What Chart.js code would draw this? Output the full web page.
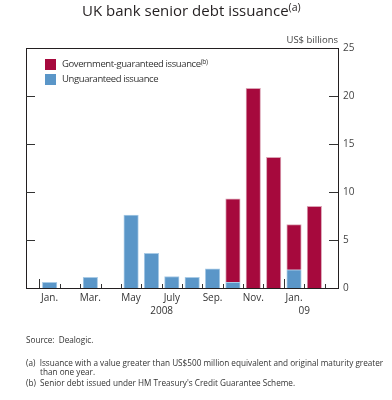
<!DOCTYPE html>
<html>
<head>
<meta charset="utf-8">
<script src="https://cdn.jsdelivr.net/npm/chart.js@4"></script>
<style>
  body { margin: 0; background: #fff; }
  #wrap { position: relative; width: 392px; height: 400px; font-family: "Open Sans", sans-serif; color: #231f20; }
  #myChart { position: absolute; left: 0; top: 0; }
  .txt { position: absolute; white-space: nowrap; line-height: 1; }
  sup { font-size: 70%; vertical-align: 0; position: relative; top: -0.45em; }
  .sw { position: absolute; width: 11px; height: 11px; }
</style>
</head>
<body>
<div id="wrap">
  <canvas id="myChart" width="392" height="400"></canvas>
  <div class="txt" style="left:82px; top:3px; font-size:15px;">UK bank senior debt issuance<sup>(a)</sup></div>
  <div class="txt" style="right:54px; top:35px; font-size:9.5px; color:#444;">US$ billions</div>
  <div class="sw" style="left:45px; top:59px; background:#a6093d;"></div>
  <div class="sw" style="left:45px; top:74px; background:#5a96c8;"></div>
  <div class="txt" style="left:62px; top:59px; font-size:9.5px; letter-spacing:-0.4px; color:#333;">Government-guaranteed issuance<sup>(b)</sup></div>
  <div class="txt" style="left:62px; top:74px; font-size:9.5px; letter-spacing:-0.4px; color:#333;">Unguaranteed issuance</div>
  <div class="txt" style="left:26px; top:336px; font-size:8.2px; color:#333;">Source:&nbsp; Dealogic.</div>
  <div class="txt" style="left:26px; top:359px; font-size:8.2px; color:#333;">(a)&nbsp; Issuance with a value greater than US$500 million equivalent and original maturity greater</div>
  <div class="txt" style="left:40px; top:368px; font-size:8.2px; color:#333;">than one year.</div>
  <div class="txt" style="left:26px; top:379px; font-size:8.2px; color:#333;">(b)&nbsp; Senior debt issued under HM Treasury's Credit Guarantee Scheme.</div>
</div>
<script>
// 月份 (Jan 2008 - Feb 2009)
const monthLabels = ['Jan.', '', 'Mar.', '', 'May', '', 'July', '', 'Sep.', '', 'Nov.', '', 'Jan.', ''];
const monthYears = ['2008', '2008', '2008', '2008', '2008', '2008', '2008', '2008', '2008', '2008', '2008', '2008', '09', '09'];
// US$ billions
const unguaranteed = [0.6, 0, 1.1, 0, 7.6, 3.6, 1.2, 1.1, 2.0, 0.6, 0, 0, 1.9, 0];
const guaranteed = [0, 0, 0, 0, 0, 0, 0, 0, 0, 8.7, 20.8, 13.6, 4.7, 8.5];
const yTicks = [0, 5, 10, 15, 20, 25];

const RED = '#a6093d';
const BLUE = '#5a96c8';

// 外框、刻度、年份
const framePlugin = {
    id: 'frame',
    afterDatasetsDraw(chart) {
        const { ctx, chartArea: a, scales: { x, y } } = chart;
        ctx.save();
        ctx.strokeStyle = '#231f20';
        ctx.lineWidth = 1;
        ctx.strokeRect(a.left + 0.5, a.top + 0.5, a.right - a.left, a.bottom - a.top);
        // y ticks pointing inward on both sides
        ctx.strokeStyle = '#333';
        yTicks.slice(1, -1).forEach(v => {
            const py = Math.round(y.getPixelForValue(v)) + 0.5;
            ctx.beginPath();
            ctx.moveTo(a.left, py); ctx.lineTo(a.left + 9, py);
            ctx.moveTo(a.right, py); ctx.lineTo(a.right - 9, py);
            ctx.stroke();
        });
        // month boundary ticks on the bottom
        for (let i = 0; i <= monthLabels.length; i++) {
            const px = Math.round(x.getPixelForValue(i - 0.5)) + 0.5;
            const yearStart = i < monthYears.length && (i === 0 || monthYears[i] !== monthYears[i - 1]);
            ctx.beginPath();
            ctx.moveTo(px, a.bottom);
            ctx.lineTo(px, a.bottom - (yearStart ? 9 : 4));
            ctx.stroke();
        }
        // year labels centred under each year group
        ctx.fillStyle = '#333';
        ctx.font = '10px "Open Sans"';
        ctx.textAlign = 'center';
        ctx.textBaseline = 'middle';
        let start = 0;
        for (let i = 1; i <= monthYears.length; i++) {
            if (i === monthYears.length || monthYears[i] !== monthYears[start]) {
                const cx = (x.getPixelForValue(start) + x.getPixelForValue(i - 1)) / 2;
                ctx.fillText(monthYears[start], cx, 311);
                start = i;
            }
        }
        ctx.restore();
    }
};

const ctx = document.getElementById('myChart');
const chart = new Chart(ctx, {
    type: 'bar',
    data: {
        datasets: [
            {
                label: 'Unguaranteed issuance',
                data: unguaranteed.map((v, i) => ({ x: i, y: v })),
                backgroundColor: BLUE,
                borderColor: '#a9cbe6',
                borderWidth: 1,
                barThickness: 14.5
            },
            {
                label: 'Government-guaranteed issuance',
                data: guaranteed.map((v, i) => ({ x: i, y: v })),
                backgroundColor: RED,
                borderColor: '#dba3b5',
                borderWidth: 1,
                barThickness: 14.5
            }
        ]
    },
    options: {
        responsive: false,
        animation: false,
        layout: { padding: { left: 26, top: 48, right: 0, bottom: 0 } },
        plugins: {
            legend: { display: false },
            title: { display: false },
            tooltip: { enabled: false }
        },
        scales: {
            x: {
                type: 'linear',
                stacked: true,
                offset: false,
                min: -1.16,
                max: 14.16,
                grid: { display: false, drawTicks: false },
                border: { display: false },
                afterBuildTicks: axis => {
                    axis.ticks = monthLabels.map((l, i) => ({ value: i })).filter(t => monthLabels[t.value]);
                },
                afterFit: axis => { axis.height = 112; },
                ticks: {
                    autoSkip: false,
                    maxRotation: 0,
                    padding: 4,
                    color: '#333',
                    font: { family: 'Open Sans', size: 10 },
                    callback: v => monthLabels[v]
                }
            },
            y: {
                position: 'right',
                stacked: true,
                min: 0,
                max: 25,
                grid: { display: false, drawTicks: false },
                border: { display: false },
                afterFit: axis => { axis.width = 54; },
                afterBuildTicks: axis => {
                    axis.ticks = yTicks.map(v => ({ value: v }));
                },
                ticks: {
                    padding: 5,
                    color: '#444',
                    font: { family: 'Open Sans', size: 10 }
                }
            }
        }
    },
    plugins: [framePlugin]
});
</script>
</body>
</html>
